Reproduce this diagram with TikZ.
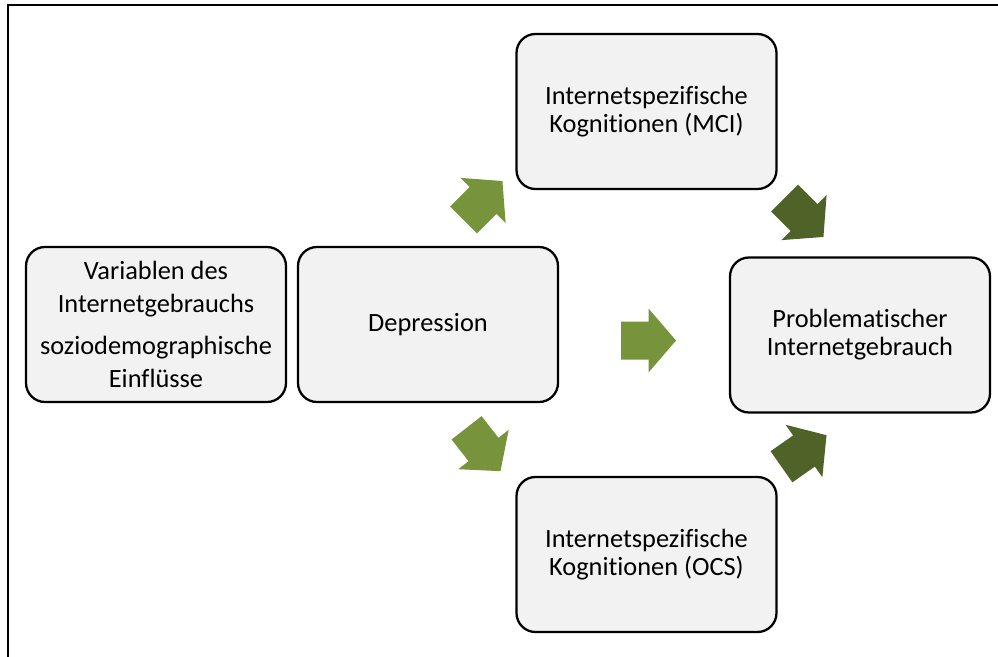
\documentclass[tikz,border=0pt]{standalone}
\usepackage{fontspec}
\setmainfont{Carlito}[Ligatures=NoCommon]

\definecolor{boxgray}{HTML}{F2F2F2}
\definecolor{olivelight}{HTML}{77933C}
\definecolor{olivedark}{HTML}{4F6228}

\begin{document}
\begin{tikzpicture}[
				box/.style={draw, line width=1.3pt, fill=boxgray, rounded corners=0.38cm, minimum width=5.2cm, minimum height=3.1cm, align=center, inner sep=2pt, font=\fontsize{15}{16}\selectfont},
				blockarrow/.pic={\fill[pic actions] (-0.55,-0.38) -- (0,-0.38) -- (0,-0.64) -- (0.55,0) -- (0,0.64) -- (0,0.38) -- (-0.55,0.38) -- cycle;}
				]
				
				\useasboundingbox (0,0) rectangle (19.96,13.12);
				% frame: only top and left edge lie on the page
				\draw[line width=1.1pt] (20.5,13.02) -- (0.16,13.02) -- (0.16,-0.5);
				
				\node[box, font=\fontsize{15}{18.7}\selectfont] (var) at (3.12,6.63) {Variablen des\\Internetgebrauchs\\[5pt]soziodemographische\\Einflüsse};
				\node[box] (dep) at (8.56,6.63) {Depression};
				\node[box] (mci) at (12.93,10.89) {Internetspezifische\\Kognitionen (MCI)};
				\node[box] (ocs) at (12.93,2.03) {Internetspezifische\\Kognitionen (OCS)};
				\node[box] (prob) at (17.2,6.42) {Problematischer\\Internetgebrauch};
				
				% block arrows between the boxes
				\pic[fill=olivelight, rotate=45] (a1) at (9.66,9.11) {blockarrow};
				\pic[fill=olivelight] (a2) at (12.97,6.31) {blockarrow};
				\pic[fill=olivelight, rotate=-52] (a3) at (9.67,4.13) {blockarrow};
				\pic[fill=olivedark, rotate=-45] (a4) at (16.08,8.77) {blockarrow};
				\pic[fill=olivedark, rotate=35] (a5) at (16.08,4.10) {blockarrow};
				
			\end{tikzpicture}
\end{document}
